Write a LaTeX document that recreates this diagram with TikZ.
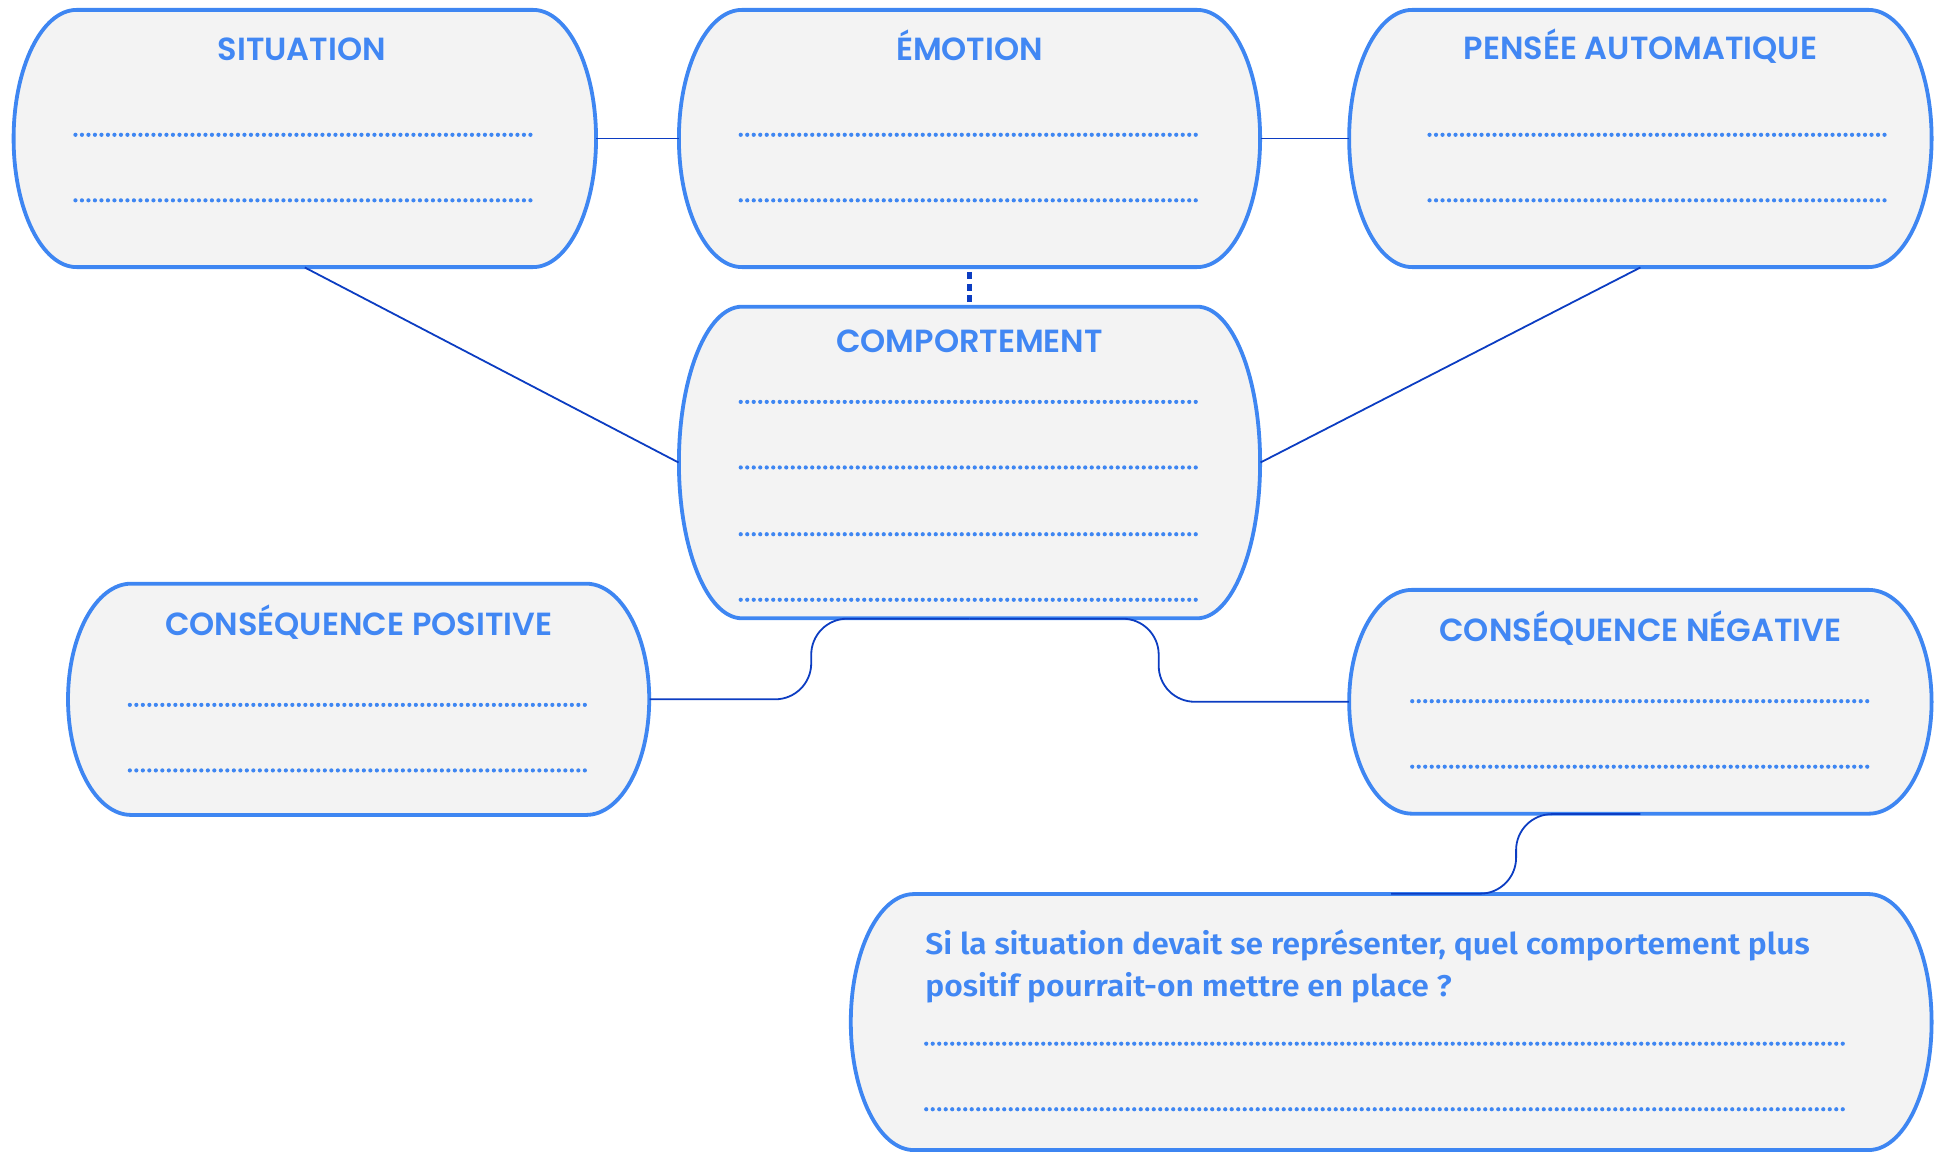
\documentclass[tikz,border=0pt]{standalone}
\usepackage{fontspec}
\usetikzlibrary{fit}
\IfFontExistsTF{Poppins SemiBold}{\newfontfamily\tfont{Poppins SemiBold}}{\newfontfamily\tfont{Poppins}[UprightFont=* Bold]}
\IfFontExistsTF{Fira Sans SemiBold}{\newfontfamily\qfont{Fira Sans SemiBold}[FakeStretch=1.06]}{\newfontfamily\qfont{Fira Sans}[UprightFont=* Bold,FakeStretch=1.06]}
\definecolor{boxblue}{HTML}{3E86F2}
\definecolor{txtblue}{HTML}{4187F3}
\definecolor{boxfill}{HTML}{F3F3F3}
\definecolor{connblue}{HTML}{0C3DC2}
\tikzset{
  capsulestyle/.style={draw=boxblue, fill=boxfill, line width=1.9pt},
  conn/.style={draw=connblue, line width=0.9pt},
  dotline/.style={draw=boxblue, line width=2.1pt, line cap=round, dash pattern=on 0pt off 3.25pt},
  title/.style={text=txtblue, font=\tfont\fontsize{16}{19}\selectfont, anchor=base, inner sep=0pt},
  qtext/.style={text=txtblue, font=\qfont\fontsize{15}{18}\selectfont, anchor=base west, inner sep=0pt},
}
\newcommand\mycapsule[5]{%
  \pgfmathsetmacro\capXa{#2+51}%
  \pgfmathsetmacro\capXb{#4-51}%
  \pgfmathsetmacro\capYm{(#3+#5)/2}%
  \pgfmathsetmacro\capKx{51*0.5523}%
  \pgfmathsetmacro\capKy{(#5-#3)/2*0.5523}%
  \draw[capsulestyle] (\capXa,#3) -- (\capXb,#3)
    .. controls (\capXb+\capKx,#3) and (#4,\capYm-\capKy) .. (#4,\capYm)
    .. controls (#4,\capYm+\capKy) and (\capXb+\capKx,#5) .. (\capXb,#5)
    -- (\capXa,#5)
    .. controls (\capXa-\capKx,#5) and (#2,\capYm+\capKy) .. (#2,\capYm)
    .. controls (#2,\capYm-\capKy) and (\capXa-\capKx,#3) .. cycle;
  \node[fit={(#2,#3)(#4,#5)}, inner sep=0pt] (#1) {};
}
\begin{document}
\begin{tikzpicture}[x=0.6183pt, y=-0.6183pt]
\useasboundingbox (0,0) rectangle (1568,932);
% boxes
\mycapsule{sit}{11}{8}{482}{216}
\mycapsule{emo}{549}{8}{1019}{216}
\mycapsule{pen}{1091}{8}{1562}{216}
\mycapsule{comp}{549}{248}{1019}{500}
\mycapsule{pos}{55}{472}{525}{659}
\mycapsule{neg}{1091}{477}{1562}{658}
\mycapsule{q}{688}{723}{1562}{930}
% bend points
\coordinate (bl) at (656,0);
\coordinate (br) at (937,0);
\coordinate (bq) at (1226,0);
% connectors
\draw[conn] (sit.east) -- (emo.west);
\draw[conn] (emo.east) -- (pen.west);
\draw[conn] (sit.south) -- (comp.west);
\draw[conn] (pen.south) -- (comp.east);
\draw[draw=connblue, line width=2.8pt, dash pattern=on 3.6pt off 2.2pt] ([yshift=-2.2pt]emo.south) -- ([yshift=0.8pt]comp.north);
\draw[conn, rounded corners=18pt] (comp.south) -| (bl |- pos.east) -- (pos.east);
\draw[conn, rounded corners=18pt] (comp.south) -| (br |- neg.west) -- (neg.west);
\draw[conn, rounded corners=18pt] (neg.south) -| (bq |- q.north) -- (q.north);
% titles
\node[title] (tsit) at (244,49) {SITUATION};
\node[title] (temo) at (784,49) {ÉMOTION};
\node[title] (tpen) at (1326.5,48) {PENSÉE AUTOMATIQUE};
\node[title] (tcomp) at (784,285) {COMPORTEMENT};
\node[title] (tpos) at (290,514) {CONSÉQUENCE POSITIVE};
\node[title] (tneg) at (1326.5,519) {CONSÉQUENCE NÉGATIVE};
\node[qtext] (q1) at (748,772) {Si la situation devait se représenter, quel comportement plus};
\node[qtext] (q2) at (748,806) {positif pourrait-on mettre en place ?};
% dotted writing lines
\foreach \y in {109,162} {
  \draw[dotline] (61,\y) -- (432,\y);
  \draw[dotline] (599,\y) -- (970,\y);
  \draw[dotline] (1156,\y) -- (1527,\y);
}
\foreach \y in {325,378,432,485} \draw[dotline] (599,\y) -- (970,\y);
\foreach \y in {570,623} \draw[dotline] (105,\y) -- (476,\y);
\foreach \y in {567,620} \draw[dotline] (1142,\y) -- (1513,\y);
\foreach \y in {844,897} \draw[dotline] (749,\y) -- (1492,\y);
\end{tikzpicture}
\end{document}
